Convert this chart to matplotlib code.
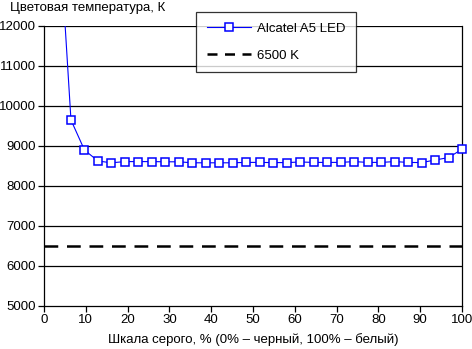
import numpy as np
import matplotlib
matplotlib.use("Agg")
import matplotlib.pyplot as plt
from matplotlib.lines import Line2D

plt.rcParams['font.family'] = ['Liberation Sans', 'DejaVu Sans']

# grey level, % (32 steps from 0 to 100)
gray = np.arange(1, 32) * 100 / 31
temp = np.array([15100, 9650, 8900, 8625, 8580, 8610, 8610, 8610, 8605, 8605,
                 8580, 8580, 8580, 8580, 8590, 8590, 8585, 8585, 8600, 8590,
                 8590, 8590, 8610, 8590, 8590, 8610, 8590, 8585, 8650, 8710, 8920])
ref_level = 6500
y_ticks = [5000, 6000, 7000, 8000, 9000, 10000, 11000, 12000]
x_ticks = [0, 10, 20, 30, 40, 50, 60, 70, 80, 90, 100]

fig = plt.figure(figsize=(4.72, 3.49), dpi=100)
ax = fig.add_axes([44/472, 1 - 306/349, 418/472, 280/349])

for y in y_ticks[1:]:
    ax.axhline(y, color='black', lw=0.9, zorder=1)

blue = '#0000ff'
mstyle = dict(marker='s', ms=6.2, mfc='white', mec=blue, mew=1.1)

# line is clipped at 12000, markers inside the range are drawn unclipped
ax.plot(gray, temp, color=blue, lw=0.8, zorder=3)
inside = temp <= 12000
ax.plot(gray[inside], temp[inside], ls='none', zorder=4, clip_on=False, **mstyle)
ax.axhline(ref_level, color='black', lw=1.8, dashes=(5.5, 3.5), zorder=2)

ax.set_xlim(0, 100)
ax.set_ylim(5000, 12000)
ax.set_xticks(x_ticks)
ax.set_yticks(y_ticks)
ax.tick_params(direction='out', length=4, width=0.9, labelsize=9.5,
               colors='black', pad=2)
for s in ['left', 'right', 'bottom']:
    ax.spines[s].set_linewidth(0.9)
ax.spines['top'].set_visible(False)

fig.text(10/472, 1 - 8/349, 'Цветовая температура, К', fontsize=9.5,
         ha='left', va='center')
fig.text(253/472, 1 - 340/349, 'Шкала серого, % (0% – черный, 100% – белый)',
         fontsize=9.5, ha='center', va='center')

handles = [Line2D([], [], color=blue, lw=0.8, **mstyle),
           Line2D([], [], color='black', lw=1.8, dashes=(4.0, 3.0))]
leg = ax.legend(handles, ['Alcatel A5 LED', '6500 K'], loc='upper left',
                bbox_to_anchor=(152/418, 1 + 14/280),
                frameon=True, fancybox=False, fontsize=9.5,
                handlelength=3.4, labelspacing=1.1, borderpad=0.8,
                handletextpad=0.4, borderaxespad=0)
leg.get_frame().set_edgecolor('black')
leg.get_frame().set_linewidth(0.9)

fig.savefig('out.png', dpi=100)
